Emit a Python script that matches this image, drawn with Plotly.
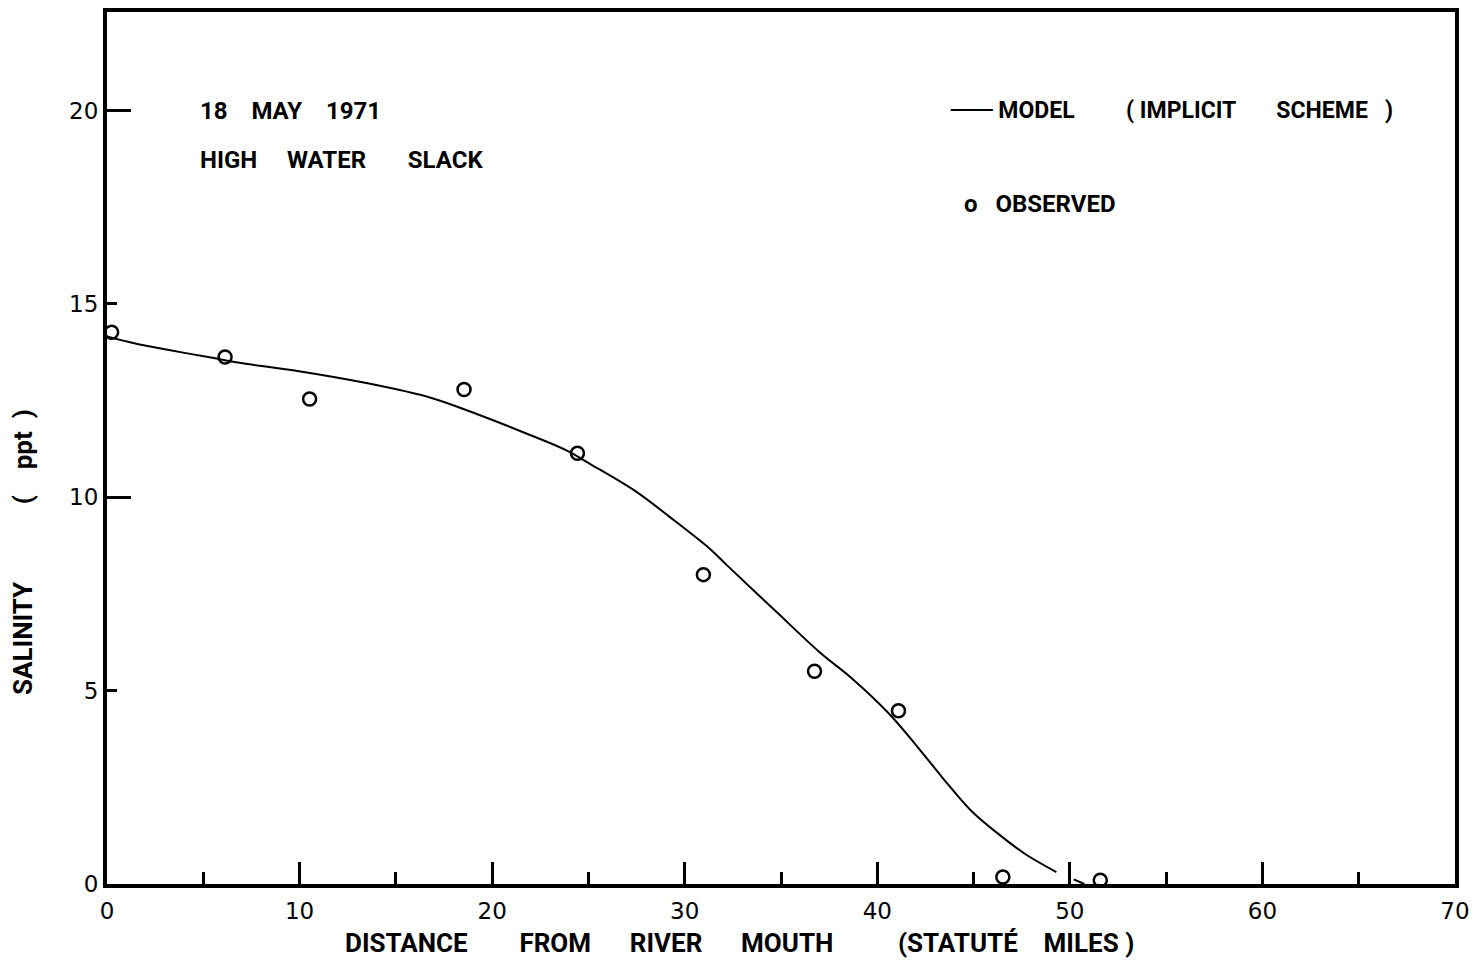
import plotly.graph_objects as go

# Observed salinity (ppt) vs distance from river mouth (statute miles)
obs_x = [0.24, 6.13, 10.52, 18.54, 24.43, 30.97, 36.74, 41.1, 46.52, 51.58]
obs_y = [14.27, 13.63, 12.54, 12.79, 11.14, 8.0, 5.5, 4.48, 0.18, 0.1]

# Model (implicit scheme) curve
model_x = [0, 1.36, 3.08, 5.32, 6.7, 9.97, 13.4, 16.85, 19.27, 21.68, 23.83, 25.1,
           27.44, 29.25, 31.3, 32.2, 34.76, 36.99, 38.7, 40.6, 42.0, 42.7, 43.4,
           44.9, 46.3, 47.7, 49.3, None, 50.2, 50.75]
model_y = [14.16, 13.99, 13.82, 13.62, 13.49, 13.26, 12.96, 12.57, 12.14, 11.67, 11.22, 10.86,
           10.16, 9.48, 8.67, 8.24, 7.04, 6.0, 5.31, 4.41, 3.6, 3.17, 2.74,
           1.88, 1.29, 0.77, 0.31, None, 0.12, 0.0]

x_ticks = [0, 10, 20, 30, 40, 50, 60, 70]
y_ticks = [0, 5, 10, 15, 20]
y_long_ticks = [10, 20]

FONT = "Roboto"
NUMFONT = "DejaVu Sans"
NB = "\u00a0"


def sp(n):
    return NB * n


fig = go.Figure()
fig.add_trace(go.Scatter(x=model_x, y=model_y, mode="lines", yaxis="y2",
                         line=dict(color="black", width=2, shape="spline", smoothing=1.0),
                         connectgaps=False, showlegend=False, hoverinfo="skip"))
fig.add_trace(go.Scatter(x=obs_x, y=obs_y, mode="markers",
                         marker=dict(symbol="circle-open", size=13, color="black",
                                     line=dict(width=2.5, color="black")),
                         showlegend=False))

yr = [0, 22.55]
fig.update_layout(
    width=1478, height=962,
    margin=dict(l=107, r=16, t=8, b=78),
    paper_bgcolor="white", plot_bgcolor="white",
    font=dict(family=FONT, color="black", size=20),
    xaxis=dict(range=[0, 70], tickvals=x_ticks, ticks="inside", ticklen=22,
               tickwidth=2.5, tickcolor="black", showgrid=False, zeroline=False,
               showline=True, linewidth=3.5, linecolor="black", mirror=True,
               tickfont=dict(size=23, family=NUMFONT), ticklabelstandoff=4,
               minor=dict(ticks="inside", tickvals=[5, 15, 25, 35, 45, 55, 65],
                          ticklen=12, tickwidth=2.5, tickcolor="black", showgrid=False)),
    yaxis=dict(range=yr, tickvals=y_ticks, ticks="inside", ticklen=10,
               tickwidth=2.5, tickcolor="black", showgrid=False, zeroline=False,
               showline=True, linewidth=4, linecolor="black", mirror=True,
               tickfont=dict(size=23, family=NUMFONT)),
    yaxis2=dict(range=yr, overlaying="y", side="left", tickvals=y_long_ticks,
                ticks="inside", ticklen=24, tickwidth=2.5, tickcolor="black",
                showticklabels=False, showgrid=False, zeroline=False, showline=False),
)

ann_font = dict(family=FONT, size=24, color="black", weight="bold")
leg_font = dict(family=FONT, size=23, color="black", weight="bold")

fig.add_annotation(x=4.7, y=20, xref="x", yref="y", xanchor="left", yanchor="middle",
                   text=f"18{sp(4)}MAY{sp(4)}1971", showarrow=False, font=ann_font)
fig.add_annotation(x=4.7, y=18.71, xref="x", yref="y", xanchor="left", yanchor="middle",
                   text=f"HIGH{sp(5)}WATER{sp(7)}SLACK", showarrow=False, font=ann_font)
fig.add_annotation(x=43.65, y=20, xref="x", yref="y", xanchor="left", yanchor="middle",
                   text=(f"<span style='font-family:DejaVu Sans;font-weight:normal'>\u2500\u2500\u2500</span>"
                         f"{sp(1)}MODEL{sp(9)}({sp(1)}IMPLICIT{sp(7)}SCHEME{sp(3)})"),
                   showarrow=False, font=leg_font)
fig.add_annotation(x=44.38, y=17.58, xref="x", yref="y", xanchor="left", yanchor="middle",
                   text=f"o{sp(3)}OBSERVED", showarrow=False,
                   font=dict(family=FONT, size=24, color="black", weight="bold"))

fig.add_annotation(x=743, y=943, xref="paper", yref="paper", showarrow=False,
                   xanchor="center", yanchor="middle",
                   text=(f"DISTANCE{sp(8)}FROM{sp(6)}RIVER{sp(6)}MOUTH{sp(10)}"
                         f"(STATUTÉ{sp(4)}MILES{sp(1)})"),
                   font=dict(family=FONT, size=26, color="black", weight="bold"))
fig.add_annotation(x=22, y=550, xref="paper", yref="paper", showarrow=False, textangle=-90,
                   xanchor="center", yanchor="middle",
                   text=f"SALINITY{sp(12)}({sp(4)}ppt{sp(2)})",
                   font=dict(family=FONT, size=26, color="black", weight="bold"))

# convert pixel-located axis-title annotations to paper coords
pw, ph = 1478 - 107 - 16, 962 - 8 - 78
for a in fig.layout.annotations[-2:]:
    a.x = (a.x - 107) / pw
    a.y = (962 - 78 - a.y) / ph

fig.write_html("out.html")
